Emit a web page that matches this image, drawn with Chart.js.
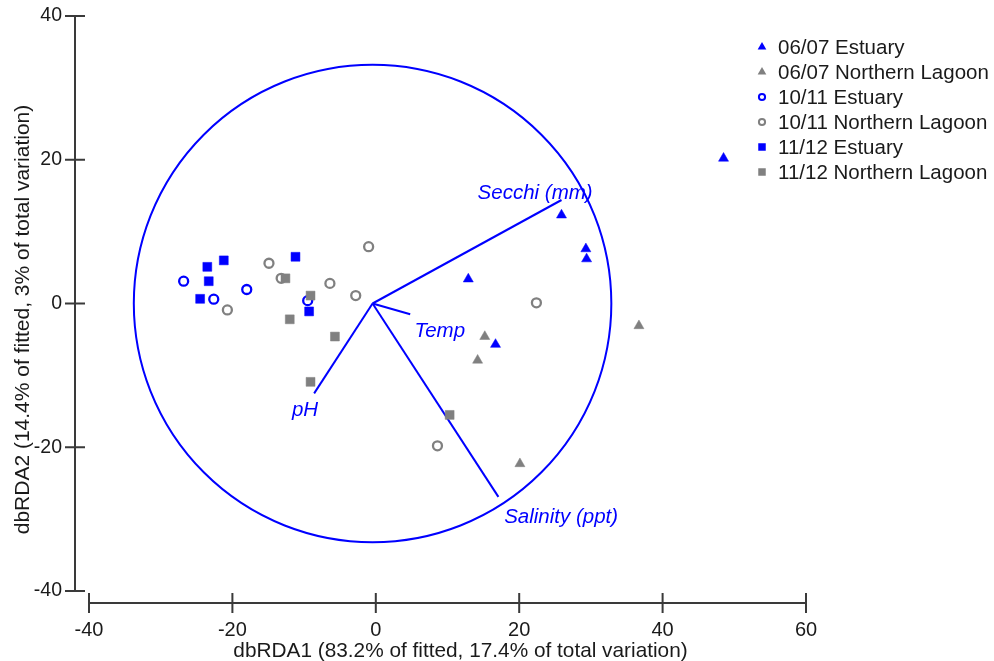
<!DOCTYPE html>
<html>
<head>
<meta charset="utf-8">
<script src="https://cdn.jsdelivr.net/npm/chart.js@4.4.1/dist/chart.umd.min.js"></script>
<style>
  html, body { margin: 0; padding: 0; background: #fff; }
  #wrap { width: 994px; height: 661px; }
</style>
</head>
<body>
<div id="wrap"><canvas id="myChart"></canvas></div>
<script>
// axis ticks
const xTicks = [-40, -20, 0, 20, 40, 60];
const yTicks = [-40, -20, 0, 20, 40];
const xTitle = 'dbRDA1 (83.2% of fitted, 17.4% of total variation)';
const yTitle = 'dbRDA2 (14.4% of fitted, 3% of total variation)';

// groups
const groupNames = ['06/07 Estuary', '06/07 Northern Lagoon', '10/11 Estuary', '10/11 Northern Lagoon', '11/12 Estuary', '11/12 Northern Lagoon'];
const est0607 = [[48.5, 20.2], [25.9, 12.3], [29.3, 7.6], [29.4, 6.2], [12.9, 3.4], [16.7, -5.7]];
const lag0607 = [[15.2, -4.6], [14.2, -7.9], [36.7, -3.1], [20.1, -22.3]];
const est1011 = [[-26.8, 3.1], [-22.6, 0.6], [-18.0, 1.95], [-9.5, 0.4]];
const lag1011 = [[-14.9, 5.6], [-13.2, 3.5], [-20.7, -0.9], [-6.4, 2.8], [-2.8, 1.1], [-1.0, 7.9], [22.4, 0.1], [8.6, -19.8]];
const est1112 = [[-21.2, 6.0], [-23.5, 5.1], [-23.3, 3.1], [-24.5, 0.65], [-11.2, 6.5], [-9.3, -1.1]];
const lag1112 = [[-12.6, 3.5], [-9.1, 1.1], [-12.0, -2.2], [-5.7, -4.6], [-9.1, -10.9], [10.3, -15.5]];

// vector overlay
const vectorNames = ['Secchi (mm)', 'Temp', 'pH', 'Salinity (ppt)'];
const vectorEnds = [[25.9, 14.4], [4.8, -1.5], [-8.6, -12.5], [17.1, -26.9]];
const vectorLabelAt = [[14.2, 15.3], [5.4, -3.8], [-11.7, -14.9], [17.9, -29.8]];
const vectorOrigin = [-0.45, 0];
const circleRadius = 33.3;

const BLUE = '#0000ff';
const GREY = '#808080';
const FONT = '"Liberation Sans", Arial, Helvetica, sans-serif';

const groupStyles = [
  { style: 'triangle', color: BLUE, filled: true },
  { style: 'triangle', color: GREY, filled: true },
  { style: 'circle', color: BLUE, filled: false },
  { style: 'circle', color: GREY, filled: false },
  { style: 'rect', color: BLUE, filled: true },
  { style: 'rect', color: GREY, filled: true },
];
const groupData = [est0607, lag0607, est1011, lag1011, est1112, lag1112];

let toPoints = (arr) => arr.map(p => ({ x: p[0], y: p[1] }));

const datasets = groupData.map((arr, i) => {
  const s = groupStyles[i];
  return {
    label: groupNames[i],
    data: toPoints(arr),
    order: groupData.length - i,
    pointStyle: s.style,
    pointRadius: s.style === 'circle' ? 4.5 : (s.style === 'rect' ? 6.3 : 5.8),
    pointBorderWidth: s.filled ? 0.5 : 2.3,
    pointBackgroundColor: s.filled ? s.color : 'rgba(0,0,0,0)',
    pointBorderColor: s.color,
  };
});

// circle + vectors, under the points
const biplotPlugin = {
  id: 'biplot',
  beforeDatasetsDraw(chart) {
    const { ctx, scales: { x, y } } = chart;
    const cx = x.getPixelForValue(vectorOrigin[0]);
    const cy = y.getPixelForValue(vectorOrigin[1]);
    const r = x.getPixelForValue(vectorOrigin[0] + circleRadius) - cx;
    ctx.save();
    ctx.strokeStyle = BLUE;
    ctx.lineWidth = 2;
    ctx.beginPath();
    ctx.arc(cx, cy, r, 0, Math.PI * 2);
    ctx.stroke();

    vectorEnds.forEach((e) => {
      ctx.beginPath();
      ctx.moveTo(cx, cy);
      ctx.lineTo(x.getPixelForValue(e[0]), y.getPixelForValue(e[1]));
      ctx.stroke();
    });

    ctx.fillStyle = BLUE;
    ctx.font = `italic 20.5px ${FONT}`;
    ctx.textAlign = 'left';
    ctx.textBaseline = 'middle';
    vectorNames.forEach((name, i) => {
      const p = vectorLabelAt[i];
      ctx.fillText(name, x.getPixelForValue(p[0]), y.getPixelForValue(p[1]));
    });
    ctx.restore();
  }
};

// detached axis lines with crossing ticks, plus axis titles
const axesPlugin = {
  id: 'offsetAxes',
  afterDraw(chart, args, opts) {
    const { ctx, scales: { x, y } } = chart;
    const axisY = y.getPixelForValue(-40) + 12;
    const axisX = x.getPixelForValue(-40) - 14;
    ctx.save();
    ctx.strokeStyle = '#3a3a3a';
    ctx.lineWidth = 2;
    ctx.beginPath();
    ctx.moveTo(x.getPixelForValue(xTicks[0]), axisY);
    ctx.lineTo(x.getPixelForValue(xTicks[xTicks.length - 1]), axisY);
    xTicks.forEach(t => {
      const px = x.getPixelForValue(t);
      ctx.moveTo(px, axisY - 10);
      ctx.lineTo(px, axisY + 10);
    });
    ctx.moveTo(axisX, y.getPixelForValue(yTicks[0]));
    ctx.lineTo(axisX, y.getPixelForValue(yTicks[yTicks.length - 1]));
    yTicks.forEach(t => {
      const py = y.getPixelForValue(t);
      ctx.moveTo(axisX - 10, py);
      ctx.lineTo(axisX + 10, py);
    });
    ctx.stroke();

    ctx.fillStyle = '#1a1a1a';
    ctx.textAlign = 'center';
    ctx.textBaseline = 'middle';
    ctx.font = `20.8px ${FONT}`;
    ctx.fillText(xTitle, (x.left + x.right) / 2 + opts.xShift, opts.xTitleY);

    ctx.translate(opts.yTitleX, (y.top + y.bottom) / 2 + opts.yShift);
    ctx.rotate(-Math.PI / 2);
    ctx.font = `21px ${FONT}`;
    ctx.fillText(yTitle, 0, 0);
    ctx.restore();
  }
};

function drawMarker(ctx, s, px, py, r) {
  ctx.beginPath();
  if (s.style === 'triangle') {
    ctx.moveTo(px, py - r);
    ctx.lineTo(px + r * 0.866, py + r * 0.5);
    ctx.lineTo(px - r * 0.866, py + r * 0.5);
    ctx.closePath();
  } else if (s.style === 'rect') {
    const h = r * 0.75;
    ctx.rect(px - h, py - h, h * 2, h * 2);
  } else {
    ctx.arc(px, py, r * 0.62, 0, Math.PI * 2);
  }
  if (s.filled) {
    ctx.fillStyle = s.color;
    ctx.fill();
  } else {
    ctx.strokeStyle = s.color;
    ctx.lineWidth = 2;
    ctx.stroke();
  }
}

const legendPlugin = {
  id: 'sideLegend',
  afterDraw(chart, args, opts) {
    const { ctx } = chart;
    ctx.save();
    ctx.font = `20.5px ${FONT}`;
    ctx.textBaseline = 'middle';
    ctx.textAlign = 'left';
    groupNames.forEach((name, i) => {
      const py = opts.top + i * opts.step;
      drawMarker(ctx, groupStyles[i], opts.left, py, 5);
      ctx.fillStyle = '#1a1a1a';
      ctx.fillText(name, opts.left + 16, py + 1);
    });
    ctx.restore();
  }
};

Chart.defaults.font.family = FONT;
Chart.defaults.font.size = 20;
Chart.defaults.color = '#1a1a1a';

new Chart(document.getElementById('myChart'), {
  type: 'scatter',
  data: { datasets: datasets },
  options: {
    responsive: true,
    maintainAspectRatio: false,
    animation: false,
    layout: { padding: { left: 0, right: 188, top: 16, bottom: 0 } },
    plugins: {
      legend: { display: false },
      tooltip: { enabled: false },
      sideLegend: { left: 762, top: 47, step: 25 },
      offsetAxes: { xShift: 13, xTitleY: 651, yTitleX: 23.5, yShift: 16 },
    },
    scales: {
      x: {
        type: 'linear',
        min: -40,
        max: 60,
        afterFit: (s) => { s.height = 70; s.paddingLeft = 0; s.paddingRight = 0; },
        afterBuildTicks: (s) => { s.ticks = xTicks.map(v => ({ value: v })); },
        ticks: { padding: 27, font: { size: 20 } },
        grid: { display: false, drawTicks: false },
        border: { display: false },
      },
      y: {
        type: 'linear',
        min: -40,
        max: 40,
        afterFit: (s) => { s.width = 89; s.paddingTop = 0; s.paddingBottom = 0; },
        afterBuildTicks: (s) => { s.ticks = yTicks.map(v => ({ value: v })); },
        ticks: { padding: 27, font: { size: 19.5 } },
        grid: { display: false, drawTicks: false },
        border: { display: false },
      },
    },
  },
  plugins: [biplotPlugin, axesPlugin, legendPlugin],
});
</script>
</body>
</html>
